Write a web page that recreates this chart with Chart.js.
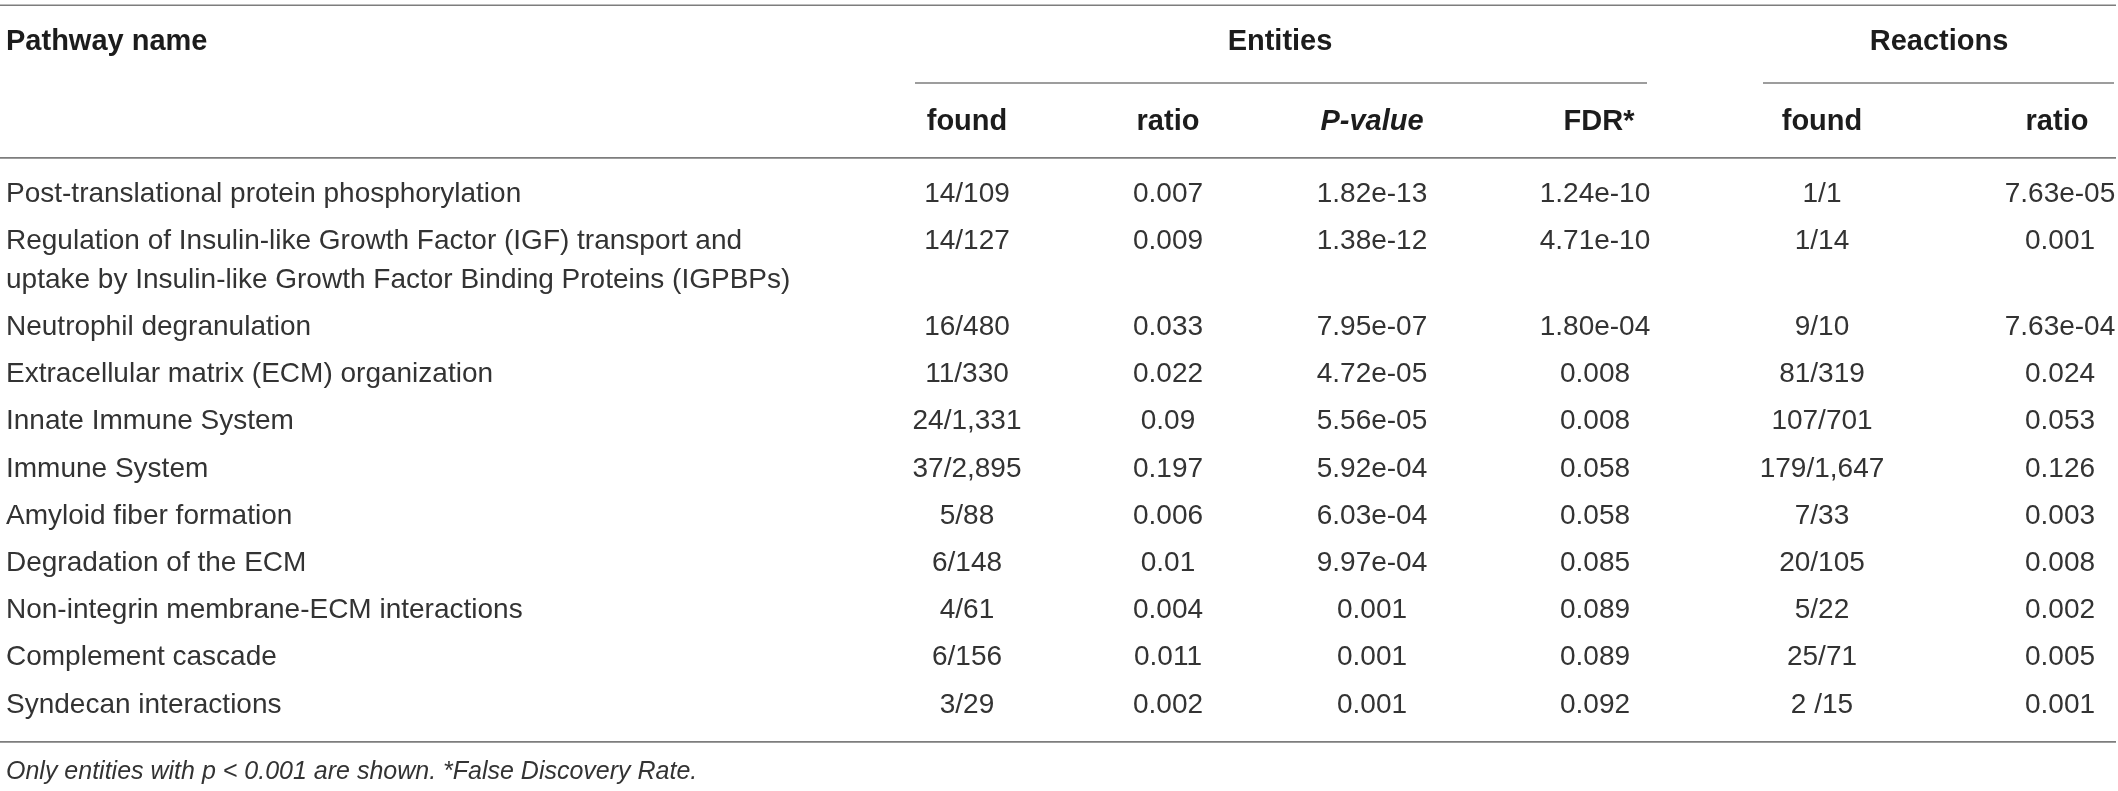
<!DOCTYPE html>
<html>
<head>
<meta charset="utf-8">
<script src="https://cdn.jsdelivr.net/npm/chart.js@4.4.1/dist/chart.umd.min.js"></script>
<style>
  html, body { margin: 0; padding: 0; background: #ffffff; }
  #wrap { width: 2118px; height: 791px; position: relative; }
</style>
</head>
<body>
<div id="wrap"><canvas id="c"></canvas></div>
<script>
// ---------- DATA ----------
const firstHeader = 'Pathway name';
const groupHeaders = ['Entities', 'Reactions'];
const columnHeaders = ['found', 'ratio', 'P-value', 'FDR*', 'found', 'ratio'];
const pathwayNames = [
  'Post-translational protein phosphorylation',
  'Regulation of Insulin-like Growth Factor (IGF) transport and\nuptake by Insulin-like Growth Factor Binding Proteins (IGPBPs)',
  'Neutrophil degranulation',
  'Extracellular matrix (ECM) organization',
  'Innate Immune System',
  'Immune System',
  'Amyloid fiber formation',
  'Degradation of the ECM',
  'Non-integrin membrane-ECM interactions',
  'Complement cascade',
  'Syndecan interactions'
];
const entitiesFound = ['14/109', '14/127', '16/480', '11/330', '24/1,331', '37/2,895', '5/88', '6/148', '4/61', '6/156', '3/29'];
const entitiesRatio = ['0.007', '0.009', '0.033', '0.022', '0.09', '0.197', '0.006', '0.01', '0.004', '0.011', '0.002'];
const entitiesPValue = ['1.82e-13', '1.38e-12', '7.95e-07', '4.72e-05', '5.56e-05', '5.92e-04', '6.03e-04', '9.97e-04', '0.001', '0.001', '0.001'];
const entitiesFDR = ['1.24e-10', '4.71e-10', '1.80e-04', '0.008', '0.008', '0.058', '0.058', '0.085', '0.089', '0.089', '0.092'];
const reactionsFound = ['1/1', '1/14', '9/10', '81/319', '107/701', '179/1,647', '7/33', '20/105', '5/22', '25/71', '2 /15'];
const reactionsRatio = ['7.63e-05', '0.001', '7.63e-04', '0.024', '0.053', '0.126', '0.003', '0.008', '0.002', '0.005', '0.001'];
const footnote = 'Only entities with p < 0.001 are shown. *False Discovery Rate.';

// ---------- LAYOUT (scale units: x in px-units, y in row units) ----------
const LAYOUT = {
  xMin: 0, xMax: 2118,
  yMin: -4.11, yMax: 12.65,
  nameX: 6,
  colX: [967, 1168, 1372, 1595, 1822, 2060],
  headerShift: [0, 0, 0, 4, 0, -3],
  groupX: [1280, 1939],
  groupSpan: [[915, 1647], [1763, 2114]],
  headerY: -3.22,
  subHeaderY: -1.52,
  extraLine: 0.826,
  rules: { top: -4.0, group: -2.35, header: -0.765, bottom: 11.61 },
  footY: 12.24,
  fullSpan: [0, 2116]
};
const STYLE = {
  rule: '#7d7d7d',
  ruleWidth: 1.6,
  head: '#1c1c1c',
  body: '#333333',
  headFont: 'bold 29px "Liberation Sans", Arial, sans-serif',
  headItalicFont: 'italic bold 29px "Liberation Sans", Arial, sans-serif',
  bodyFont: '28px "Liberation Sans", Arial, sans-serif',
  footFont: 'italic 25px "Liberation Sans", Arial, sans-serif'
};

// row positions in row units, accounting for wrapped names
function rowValues() {
  const vals = [];
  let extra = 0;
  pathwayNames.forEach((n, i) => {
    vals.push(i + extra);
    extra += (n.split('\n').length - 1) * LAYOUT.extraLine;
  });
  return vals;
}
const rowY = rowValues();

function ruleDataset(x1, x2, yv) {
  return {
    type: 'scatter', showLine: true,
    data: [{ x: x1, y: yv }, { x: x2, y: yv }],
    borderColor: STYLE.rule, borderWidth: STYLE.ruleWidth,
    pointRadius: 0, fill: false
  };
}
const datasets = [
  ruleDataset(LAYOUT.fullSpan[0], LAYOUT.fullSpan[1], LAYOUT.rules.top),
  ruleDataset(LAYOUT.groupSpan[0][0], LAYOUT.groupSpan[0][1], LAYOUT.rules.group),
  ruleDataset(LAYOUT.groupSpan[1][0], LAYOUT.groupSpan[1][1], LAYOUT.rules.group),
  ruleDataset(LAYOUT.fullSpan[0], LAYOUT.fullSpan[1], LAYOUT.rules.header),
  ruleDataset(LAYOUT.fullSpan[0], LAYOUT.fullSpan[1], LAYOUT.rules.bottom)
];

const tableText = {
  id: 'tableText',
  afterDatasetsDraw(chart) {
    const { ctx } = chart;
    const xs = chart.scales.x, ys = chart.scales.y;
    const X = v => xs.getPixelForValue(v);
    const Y = v => ys.getPixelForValue(v);
    const lineStep = Y(LAYOUT.extraLine) - Y(0);
    ctx.save();
    ctx.textBaseline = 'middle';

    // header row
    ctx.fillStyle = STYLE.head;
    ctx.font = STYLE.headFont;
    ctx.textAlign = 'left';
    ctx.fillText(firstHeader, X(LAYOUT.nameX), Y(LAYOUT.headerY));
    ctx.textAlign = 'center';
    groupHeaders.forEach((g, i) => ctx.fillText(g, X(LAYOUT.groupX[i]), Y(LAYOUT.headerY)));

    // sub header row
    columnHeaders.forEach((h, i) => {
      ctx.font = h === 'P-value' ? STYLE.headItalicFont : STYLE.headFont;
      ctx.fillText(h, X(LAYOUT.colX[i] + LAYOUT.headerShift[i]), Y(LAYOUT.subHeaderY));
    });

    // body
    const cols = [entitiesFound, entitiesRatio, entitiesPValue, entitiesFDR, reactionsFound, reactionsRatio];
    ctx.fillStyle = STYLE.body;
    ctx.font = STYLE.bodyFont;
    pathwayNames.forEach((name, r) => {
      const y0 = Y(rowY[r]);
      ctx.textAlign = 'left';
      name.split('\n').forEach((ln, k) => ctx.fillText(ln, X(LAYOUT.nameX), y0 + k * lineStep));
      ctx.textAlign = 'center';
      cols.forEach((col, c) => ctx.fillText(col[r], X(LAYOUT.colX[c]), y0));
    });

    // footnote
    ctx.font = STYLE.footFont;
    ctx.textAlign = 'left';
    ctx.fillText(footnote, X(LAYOUT.nameX), Y(LAYOUT.footY));
    ctx.restore();
  }
};

new Chart(document.getElementById('c'), {
  type: 'scatter',
  data: { datasets },
  options: {
    responsive: true,
    maintainAspectRatio: false,
    animation: false,
    events: [],
    layout: { padding: 0 },
    plugins: { legend: { display: false }, tooltip: { enabled: false }, title: { display: false } },
    scales: {
      x: { type: 'linear', min: LAYOUT.xMin, max: LAYOUT.xMax, display: false },
      y: { type: 'linear', min: LAYOUT.yMin, max: LAYOUT.yMax, reverse: true, display: false }
    }
  },
  plugins: [tableText]
});
</script>
</body>
</html>
